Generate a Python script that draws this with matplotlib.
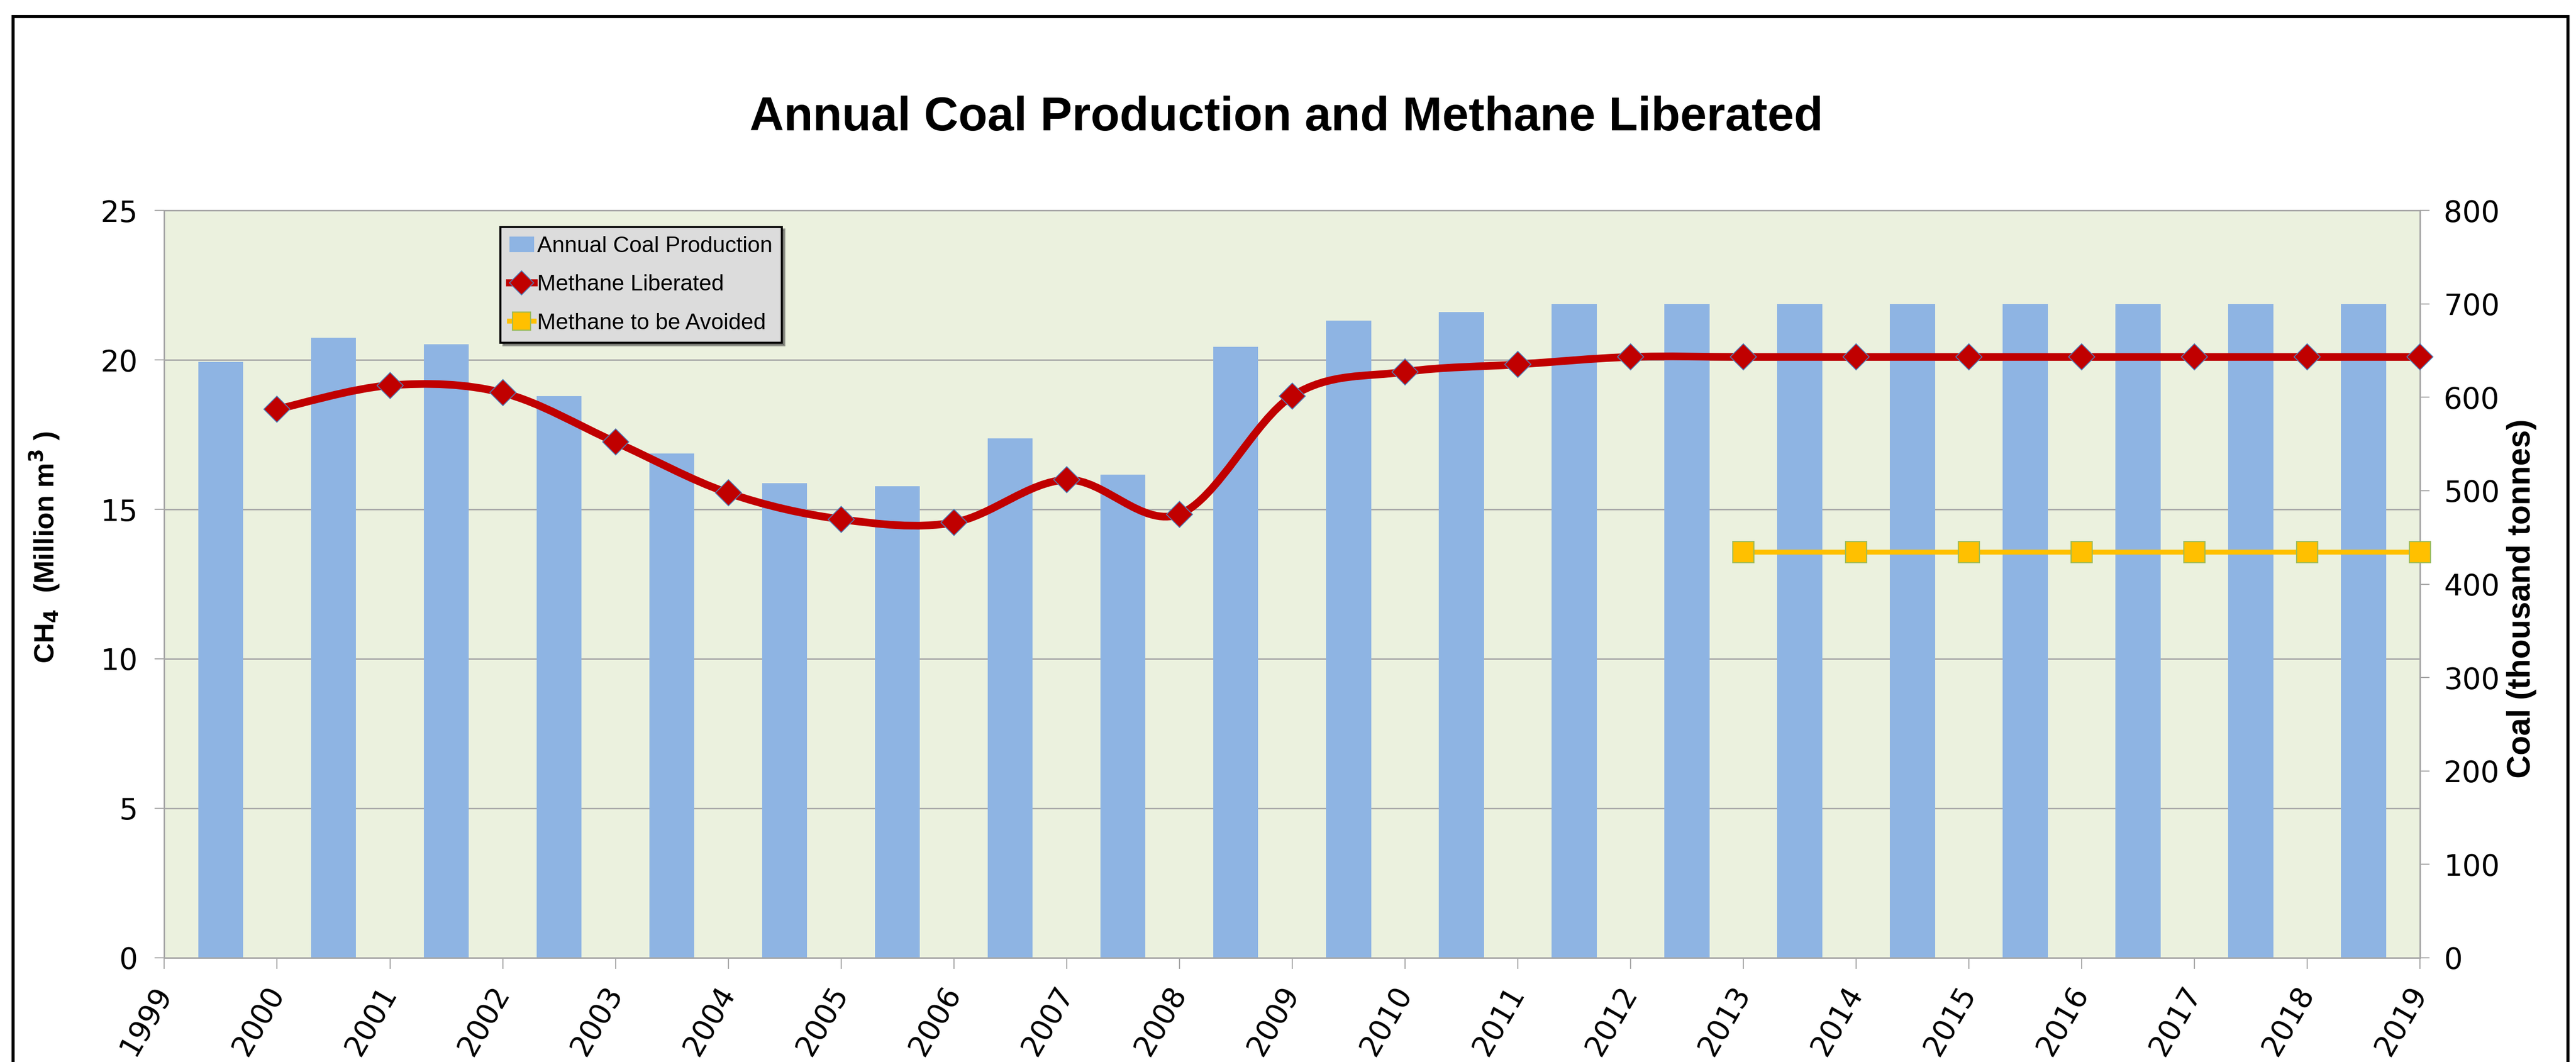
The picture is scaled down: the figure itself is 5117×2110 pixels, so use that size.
import numpy as np
import matplotlib
matplotlib.use("Agg")
import matplotlib.pyplot as plt
from matplotlib.path import Path
from matplotlib.patches import PathPatch, Rectangle, Patch
from matplotlib.lines import Line2D

# ---- data ----
bar_years = [1999, 2000, 2001, 2002, 2003, 2004, 2005, 2006, 2007, 2008,
             2009, 2010, 2011, 2012, 2013, 2014, 2015, 2016, 2017, 2018]
coal_kt = [638, 664, 657, 601, 540, 508, 505, 556, 517, 654,
           682, 691, 700, 700, 700, 700, 700, 700, 700, 700]

ch4_years = [2000, 2001, 2002, 2003, 2004, 2005, 2006, 2007, 2008, 2009,
             2010, 2011, 2012, 2013, 2014, 2015, 2016, 2017, 2018, 2019]
ch4_liberated = [18.35, 19.15, 18.9, 17.25, 15.55, 14.67, 14.56, 15.99, 14.84, 18.79,
                 19.6, 19.85, 20.1, 20.1, 20.1, 20.1, 20.1, 20.1, 20.1, 20.1]

avoid_years = [2013, 2014, 2015, 2016, 2017, 2018, 2019]
ch4_avoided = [13.57, 13.57, 13.57, 13.57, 13.57, 13.57, 13.57]

xtick_years = list(range(1999, 2020))

BG = "#EBF1DE"; BAR = "#8EB4E3"; RED = "#C00000"; GOLD = "#FFC000"; GRID = "#A6A6A6"
NARROW = ["Liberation Sans", "DejaVu Sans"]


def smooth_path(xs, ys):
    # Excel-style smoothed line: cubic bezier segments (Catmull-Rom control points)
    p = np.column_stack([xs, ys]).astype(float)
    p_ext = np.vstack([p[0], p, p[-1]])
    verts, codes = [p[0]], [Path.MOVETO]
    for i in range(len(p) - 1):
        a, b, c, d = p_ext[i], p_ext[i + 1], p_ext[i + 2], p_ext[i + 3]
        verts += [b + (c - a) / 6, c - (d - b) / 6, c]
        codes += [Path.CURVE4] * 3
    return Path(verts, codes)


fig = plt.figure(figsize=(5117 / 200, 2110 / 200), dpi=200)
ax = fig.add_axes([0.0638, 0.0982, 0.8756, 0.7036])
ax.set_facecolor(BG)
ax.set_xlim(1999, 2019); ax.set_ylim(0, 25)
ax.set_yticks(range(0, 26, 5))
ax.grid(axis="y", color=GRID, lw=1.0); ax.set_axisbelow(True)
ax.set_xticks(xtick_years)
ax.set_xticklabels([str(y) for y in xtick_years], rotation=60, ha="right",
                   va="center", rotation_mode="anchor", fontsize=21)
ax.tick_params(axis="x", direction="out", length=8, color=GRID, pad=14)
ax.tick_params(axis="y", direction="out", length=7, color=GRID, labelsize=21, pad=12)
ax.set_ylabel("CH$_\\mathbf{4}$  (Million m$^\\mathbf{3}$ )", fontsize=20, fontweight="bold",
              family=NARROW)
ax.yaxis.set_label_coords(-0.0455, 0.549)

# coal bars on the right axis
ax2 = ax.twinx()
ax2.set_ylim(0, 800); ax2.set_yticks(range(0, 801, 100))
ax2.bar(np.array(bar_years) + 0.5, coal_kt, width=0.4, color=BAR, zorder=2)
ax2.tick_params(axis="y", direction="out", length=7, color=GRID, labelsize=21, pad=10)
ax2.set_ylabel("Coal (thousand tonnes)", fontsize=23, fontweight="bold", family=NARROW)
ax2.yaxis.set_label_coords(1.0385, 0.481)

# methane lines on top
ax3 = ax.twinx()
ax3.set_ylim(0, 25); ax3.set_xlim(1999, 2019)
ax3.axis("off")
ax3.add_patch(PathPatch(smooth_path(ch4_years, ch4_liberated), fill=False,
                        edgecolor=RED, lw=5.5, capstyle="round", zorder=3))
ax3.plot(ch4_years, ch4_liberated, ls="none", marker="D", ms=13, mfc=RED,
         mec="#4F81BD", mew=0.6, zorder=4, clip_on=False)
ax3.plot(avoid_years, ch4_avoided, color=GOLD, lw=3.5, marker="s", ms=15,
         mfc=GOLD, mec="#9BBB59", mew=0.8, zorder=4, clip_on=False)

for a in (ax, ax2):
    for s in a.spines.values():
        s.set_color(GRID); s.set_linewidth(1.0)

handles = [Patch(facecolor=BAR, edgecolor="none"),
           Line2D([], [], color=RED, lw=5, marker="D", ms=12, mfc=RED, mec="#4F81BD", mew=0.6),
           Line2D([], [], color=GOLD, lw=3.5, marker="s", ms=13, mfc=GOLD, mec="#9BBB59", mew=0.8)]
labels = ["Annual Coal Production", "Methane Liberated", "Methane to be Avoided"]
leg = ax3.legend(handles, labels, loc="upper left", bbox_to_anchor=(0.149, 0.978),
                 borderaxespad=0, fancybox=False, shadow=True, framealpha=1,
                 facecolor="#DCDCDC", edgecolor="black", handlelength=1.1,
                 handletextpad=0.15, borderpad=0.4, labelspacing=0.8,
                 prop={"family": NARROW, "size": 16})
leg.get_frame().set_linewidth(1.5)

fig.suptitle("Annual Coal Production and Methane Liberated", x=0.4994, y=0.889,
             va="center", fontsize=34, fontweight="bold", family=NARROW)

# outer chart frame (bottom edge lies below the cropped picture)
fig.patches.append(Rectangle((0.0051, -0.2), 0.9917, 1.1845, transform=fig.transFigure,
                             fill=False, edgecolor="black", lw=2.2, clip_on=False))

fig.savefig("out.png", dpi=200, facecolor="white")
